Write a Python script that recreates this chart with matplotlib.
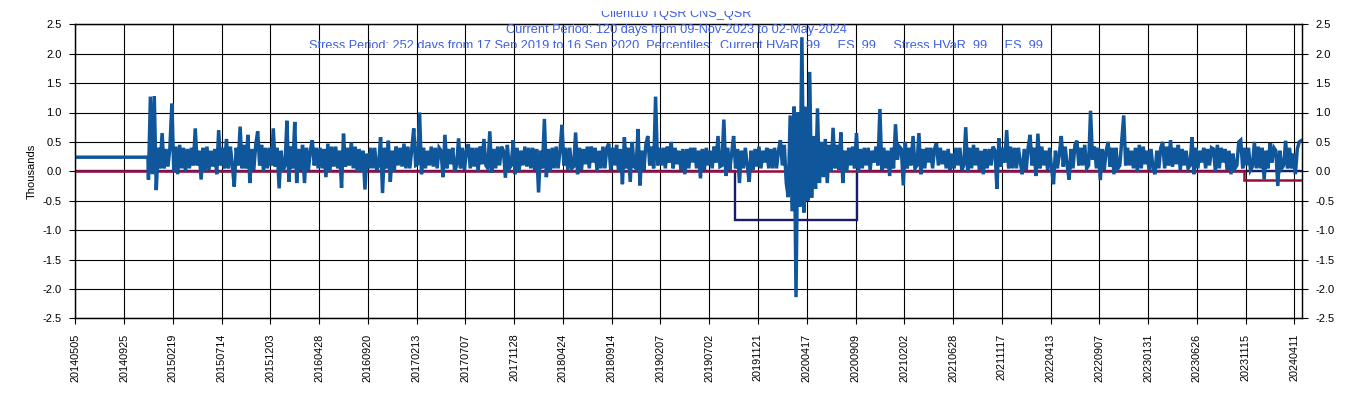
import numpy as np
import matplotlib
matplotlib.use("Agg")
import matplotlib.pyplot as plt
from matplotlib.transforms import Bbox, TransformedBbox

# ---------------- data ----------------
tick_labels = ["20140505", "20140925", "20150219", "20150714", "20151203", "20160428",
               "20160920", "20170213", "20170707", "20171128", "20180424", "20180914",
               "20190207", "20190702", "20191121", "20200417", "20200909", "20210202",
               "20210628", "20211117", "20220413", "20220907", "20230131", "20230626",
               "20231115", "20240411"]
tick_every = 100          # business days between labelled ticks
n_days = 2516             # number of business days on the axis

flat_value = 0.24         # constant value before the P&L history starts
flat_end = 149
pnl_start = 150
pnl_step = 4
# peak readings (one per ~8 business days)
pnl_values_a = [
    -0.14, 1.28, -0.32, 0.65, 0.05, 0.40, 1.15, -0.05, 0.45, 0.00,
    0.38, 0.10, 0.73, -0.14, 0.40, 0.02, 0.35, -0.05, 0.70, 0.05,
    0.55, 0.10, -0.26, 0.76, 0.05, 0.62, -0.20, 0.45, 0.68, 0.00,
    0.40, 0.10, 0.73, -0.29, 0.35, 0.86, -0.18, 0.84, -0.20, 0.45,
    -0.20, 0.35, 0.53, 0.05, 0.40, -0.10, 0.47, 0.08, 0.42, -0.28,
    0.64, 0.10, 0.49, 0.00, 0.38, -0.31, 0.30, 0.05, 0.40, 0.58,
    -0.37, 0.52, -0.18, 0.42, 0.10, 0.47, 0.05, 0.38, 0.73, 1.00,
    -0.05, 0.35, 0.10, 0.40, 0.05, -0.10, 0.62, 0.12, 0.40, 0.56,
    0.05, 0.35, 0.46, 0.08, 0.40, 0.12, 0.55, 0.68, -0.02, 0.42,
    0.10, -0.11, 0.45, 0.53, -0.05, 0.35, 0.10, 0.40, 0.05, 0.38,
    -0.36, 0.89, -0.10, 0.40, 0.05, 0.35, 0.79, 0.02, 0.40, 0.66,
    -0.05, 0.38, 0.12, 0.42, 0.15, 0.35, 0.05, 0.40, 0.47, 0.10,
    0.45, -0.22, 0.58, -0.18, 0.50, 0.72, -0.24, 0.45, 0.60, 0.05,
    1.27, 0.10, 0.40, 0.15, 0.50, 0.12, 0.35, -0.05, 0.38, 0.15,
    0.40, -0.12, 0.38, 0.10, 0.35, 0.15, 0.60, 0.88, -0.08, 0.30,
    0.60, -0.20, 0.35, 0.10, -0.18, 0.38, 0.08, 0.35, 0.15, 0.38,
    0.05, 0.35, 0.53, -0.20, -0.44, 1.10, -2.14, 2.28, -0.70, 1.69,
    -0.45, 1.07, -0.20, 0.55, -0.20, 0.74, 0.05, 0.66, -0.20, 0.40,
    0.10, 0.65, -0.02, 0.40, 0.10, 0.35, 0.15, 1.06, 0.02, 0.35,
    -0.08, 0.80, 0.20, -0.24, 0.50, 0.10, 0.60, 0.65, -0.05, 0.40,
    0.15, 0.38, 0.48, 0.12, 0.35, 0.02, 0.30, 0.10, 0.40, 0.75,
    0.00, 0.45, 0.10, 0.35, -0.05, 0.38, 0.10, -0.30, 0.56, 0.15,
    0.70, 0.05, 0.40, 0.15, -0.05, 0.40, 0.62, -0.08, 0.64, 0.10,
    0.35, 0.05, -0.22, 0.30, 0.60, 0.10, -0.14, 0.45, 0.52, 0.10,
    0.45, 1.03, 0.20, 0.40, -0.15, 0.35, 0.50, -0.05, 0.40, 0.53,
    0.95, 0.10, 0.35, 0.00, 0.45, 0.12, 0.35, 0.05, -0.05, 0.40,
    0.50, 0.10, 0.53, 0.12, 0.45, 0.10, 0.35, 0.58, -0.05, 0.35,
    0.15, 0.38, 0.10, 0.00, 0.45, 0.15, 0.38, -0.05, 0.30, 0.50,
    0.53, 0.10, 0.40, 0.50, 0.05, 0.40, -0.14, 0.48, 0.15, -0.25,
    0.35, 0.52, 0.05, 0.30, -0.05, 0.52,
]
# the in-between readings that go with each peak reading above
pnl_values_b = [
    1.27, -0.05, 0.40, 0.05, 0.38, 0.08, 0.00, 0.42, 0.05, 0.40,
    0.05, 0.40, 0.10, 0.35, 0.00, 0.42, 0.08, 0.38, 0.10, 0.40,
    0.05, 0.42, 0.40, 0.10, 0.45, 0.05, 0.38, 0.02, 0.10, 0.45,
    0.05, 0.40, 0.08, 0.40, 0.00, 0.10, 0.42, 0.05, 0.38, 0.02,
    0.40, 0.02, 0.10, 0.40, 0.05, 0.38, 0.00, 0.42, 0.05, 0.35,
    0.08, 0.40, 0.05, 0.42, 0.00, 0.35, 0.05, 0.40, 0.02, 0.10,
    0.40, 0.05, 0.35, 0.00, 0.40, 0.08, 0.42, 0.05, 0.10, 0.12,
    0.40, 0.05, 0.42, 0.08, 0.40, 0.35, 0.05, 0.38, 0.00, 0.10,
    0.40, 0.02, 0.05, 0.40, 0.00, 0.42, 0.10, 0.05, 0.38, 0.05,
    0.42, 0.35, 0.05, 0.10, 0.40, 0.00, 0.42, 0.08, 0.40, 0.02,
    0.35, 0.05, 0.38, 0.00, 0.42, 0.05, 0.10, 0.40, 0.05, 0.08,
    0.40, 0.02, 0.42, 0.05, 0.40, 0.00, 0.42, 0.05, 0.02, 0.40,
    0.00, 0.38, 0.05, 0.40, 0.08, 0.05, 0.35, 0.02, 0.10, 0.42,
    0.10, 0.40, 0.05, 0.42, 0.05, 0.40, 0.02, 0.38, 0.05, 0.40,
    0.05, 0.35, 0.02, 0.40, 0.05, 0.42, 0.08, 0.10, 0.40, 0.02,
    0.05, 0.38, 0.05, 0.40, 0.35, 0.02, 0.42, 0.05, 0.40, 0.05,
    0.40, 0.05, 0.10, 0.45, 0.95, -0.68, 1.00, -0.60, 1.10, -0.50,
    0.60, -0.30, 0.50, -0.10, 0.45, 0.00, 0.45, 0.02, 0.35, 0.00,
    0.42, 0.05, 0.38, 0.05, 0.40, 0.02, 0.42, 0.10, 0.40, 0.05,
    0.40, 0.05, 0.42, 0.38, 0.05, 0.40, 0.05, 0.10, 0.38, 0.05,
    0.40, 0.05, 0.10, 0.40, 0.05, 0.38, 0.05, 0.40, 0.02, 0.10,
    0.40, 0.05, 0.40, 0.02, 0.38, 0.05, 0.42, 0.35, 0.08, 0.40,
    0.05, 0.42, 0.05, 0.40, 0.38, 0.02, 0.10, 0.40, 0.05, 0.42,
    0.02, 0.40, 0.35, 0.05, 0.08, 0.42, 0.38, 0.05, 0.10, 0.40,
    0.05, 0.10, 0.42, 0.05, 0.38, 0.02, 0.08, 0.40, 0.05, 0.10,
    0.10, 0.40, 0.05, 0.40, 0.05, 0.42, 0.02, 0.38, 0.35, 0.05,
    0.05, 0.42, 0.08, 0.40, 0.02, 0.38, 0.05, 0.10, 0.40, 0.05,
    0.40, 0.05, 0.40, 0.38, 0.05, 0.40, 0.02, 0.35, 0.05, 0.10,
    0.05, 0.40, 0.02, 0.08, 0.42, 0.05, 0.35, 0.05, 0.40, 0.35,
    0.05, 0.10, 0.40, 0.05, 0.38, 0.50,
]

current_var = -0.15       # current HVaR level (thousands)
current_start = 2396      # first business day of current period (120 days)
stress_var = -0.82        # stress HVaR level (thousands)
stress_start = 1353       # 17 Sep 2019
stress_end = 1604         # 16 Sep 2020 (252 days)

title_lines = ["Client10 TQSR CNS_QSR",
               "Current Period: 120 days from 09-Nov-2023 to 02-May-2024",
               "Stress Period: 252 days from 17 Sep 2019 to 16 Sep 2020, Percentiles:  Current HVaR  99     ES  99     Stress HVaR  99     ES  99"]

# ---------------- figure ----------------
plt.rcParams['font.family'] = ['Liberation Sans', 'DejaVu Sans']
W, H = 1353, 398
fig = plt.figure(figsize=(W / 100, H / 100), dpi=100)
ax = fig.add_axes([75.3 / W, 1 - 318.3 / H, (1301.7 - 75.3) / W, (318.3 - 24.3) / H])

last = n_days - 1
a = np.asarray(pnl_values_a)
b = np.asarray(pnl_values_b)
# each pair of peak readings is stored with its two in-between readings
pnl = np.column_stack([a[0::2], b[0::2], b[1::2], a[1::2]]).ravel()
pnl_x = pnl_start + pnl_step * np.arange(len(pnl))
x = np.concatenate([[0, flat_end], pnl_x])
y = np.concatenate([[flat_value, flat_value], pnl])

# stress HVaR (zero outside stress window)
sx = [0, stress_start, stress_start, stress_end, stress_end, last]
sy = [0, 0, stress_var, stress_var, 0, 0]
ax.plot(sx, sy, color='#1b1b6b', lw=1.7, zorder=3, solid_joinstyle='miter')
# current HVaR
cx = [0, current_start, current_start, last]
cy = [0, 0, current_var, current_var]
ax.plot(cx, cy, color='#990d3d', lw=1.8, zorder=4, solid_joinstyle='miter')
# P&L
ax.plot(x, y, color='#10569b', lw=2.5, zorder=5, solid_joinstyle='miter')

ax.set_xlim(0, last)
ax.set_ylim(-2.5, 2.5)
yt = np.arange(-2.5, 2.51, 0.5)
ax.set_yticks(yt)
ax.set_yticklabels([f"{v:.1f}" for v in yt], fontsize=8)
xt = np.arange(len(tick_labels)) * tick_every
ax.set_xticks(xt)
ax.set_xticklabels(tick_labels, rotation=90, fontsize=7.8, va='top', ha='center')
ax.tick_params(axis='x', length=4, width=0.8, pad=7, color='black')
ax.tick_params(axis='y', length=4, width=0.8, pad=6, color='black')
ax.grid(True, color='black', lw=0.8, zorder=1)
ax.set_axisbelow(True)
for s in ax.spines.values():
    s.set_linewidth(0.9)
ax.set_ylabel("Thousands", fontsize=8, labelpad=4)

ax2 = ax.twinx()
ax2.set_ylim(-2.5, 2.5)
ax2.set_yticks(yt)
ax2.set_yticklabels([f"{v:.1f}" for v in yt], fontsize=8)
ax2.tick_params(axis='y', length=4, width=0.8, pad=6, color='black')
for s in ax2.spines.values():
    s.set_linewidth(0.9)

title_color = '#3d5fe0'
ys = [14, 30.5, 46]
clips = [(11, 40), (0, 60), (0, 47.5)]
for line, yy, (c0, c1) in zip(title_lines, ys, clips):
    t = fig.text(676 / W, 1 - yy / H, line, ha='center', va='center',
                 fontsize=9.2, color=title_color, zorder=10)
    bb = TransformedBbox(Bbox([[0, 1 - c1 / H], [1, 1 - c0 / H]]), fig.transFigure)
    t.set_clip_box(bb)
    t.set_clip_on(True)

fig.savefig("out.png", dpi=100)
